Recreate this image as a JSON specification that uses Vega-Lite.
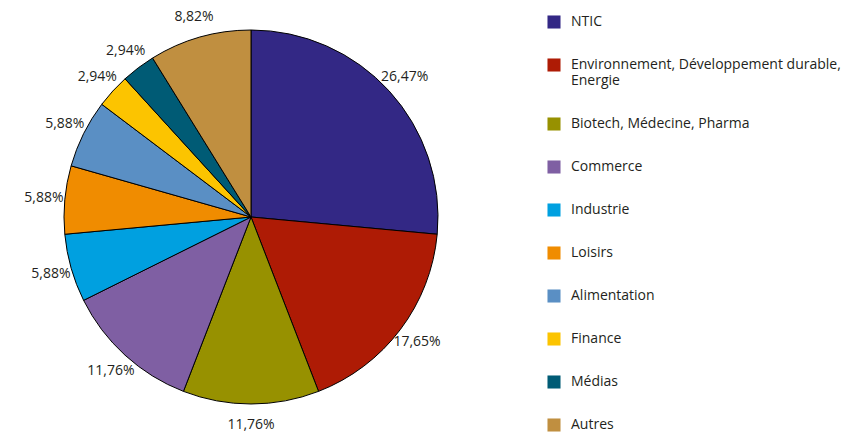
{
  "$schema": "https://vega.github.io/schema/vega-lite/v6.json",
  "width": 502,
  "height": 434,
  "padding": 0,
  "background": "white",
  "config": {"font": "Open Sans", "view": {"stroke": null}},
  "data": {
    "values": [
      {"category": "NTIC", "count": 9, "label": "26,47%", "order": 1},
      {"category": "Environnement, Développement durable, Energie", "count": 6, "label": "17,65%", "order": 2},
      {"category": "Biotech, Médecine, Pharma", "count": 4, "label": "11,76%", "order": 3},
      {"category": "Commerce", "count": 4, "label": "11,76%", "order": 4},
      {"category": "Industrie", "count": 2, "label": "5,88%", "order": 5},
      {"category": "Loisirs", "count": 2, "label": "5,88%", "order": 6},
      {"category": "Alimentation", "count": 2, "label": "5,88%", "order": 7},
      {"category": "Finance", "count": 1, "label": "2,94%", "order": 8},
      {"category": "Médias", "count": 1, "label": "2,94%", "order": 9},
      {"category": "Autres", "count": 3, "label": "8,82%", "order": 10}
    ]
  },
  "encoding": {
    "theta": {"field": "count", "type": "quantitative", "stack": true},
    "order": {"field": "order", "type": "quantitative"}
  },
  "layer": [
    {
      "mark": {"type": "arc", "outerRadius": 187, "stroke": "black", "strokeWidth": 1},
      "encoding": {
        "color": {
          "field": "category",
          "type": "nominal",
          "scale": {
            "domain": ["NTIC", "Environnement, Développement durable, Energie", "Biotech, Médecine, Pharma", "Commerce", "Industrie", "Loisirs", "Alimentation", "Finance", "Médias", "Autres"],
            "range": ["#332885", "#AE1B05", "#979100", "#7F5FA3", "#00A0E0", "#F08C00", "#5A8FC4", "#FCC400", "#005B75", "#C08F40"]
          },
          "legend": {
            "title": null,
            "orient": "none",
            "legendX": 547,
            "legendY": 15,
            "padding": 0,
            "symbolType": "square",
            "symbolSize": 170,
            "symbolStrokeWidth": 0,
            "symbolOpacity": 1,
            "labelFont": "Open Sans",
            "labelFontSize": 14,
            "labelColor": "#231F20",
            "labelOffset": 10,
            "labelLimit": 400,
            "labelLineHeight": 17,
            "labelBaseline": "middle",
            "rowPadding": 29,
            "labelExpr": "datum.label == 'Environnement, Développement durable, Energie' ? ['Environnement, Développement durable,', 'Energie'] : datum.label"
          }
        }
      }
    },
    {
      "mark": {"type": "text", "radius": 208, "fontSize": 14, "color": "#231F20"},
      "encoding": {"text": {"field": "label", "type": "nominal"}}
    }
  ]
}
